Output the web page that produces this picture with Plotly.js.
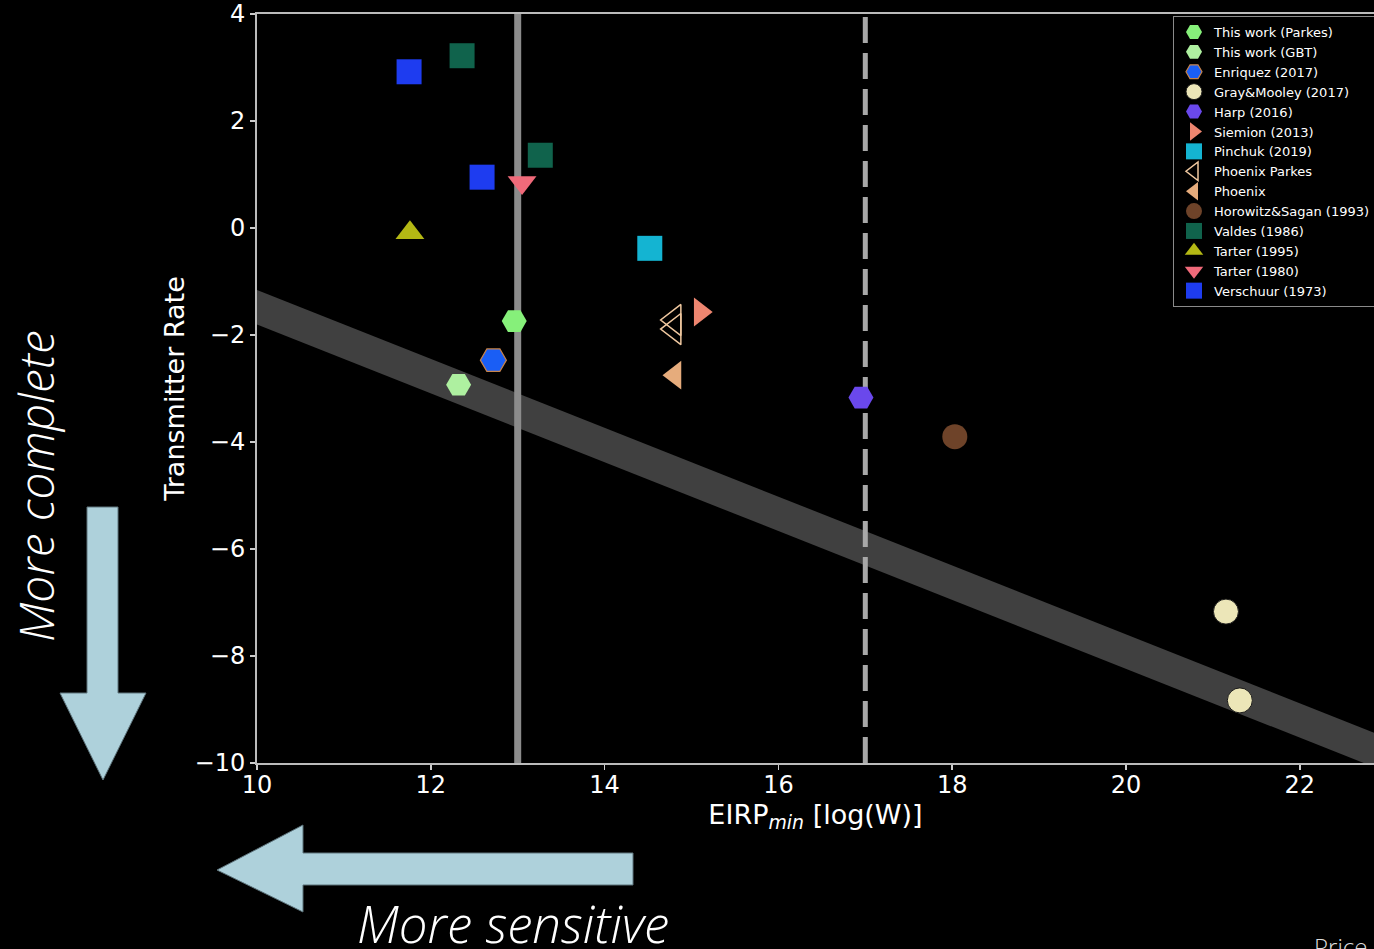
<!DOCTYPE html>
<html>
<head>
<meta charset="utf-8">
<script src="https://cdn.plot.ly/plotly-3.0.1.min.js"></script>
<style>
  html, body { margin: 0; padding: 0; background: #000; }
  #chart { width: 1374px; height: 949px; }
</style>
</head>
<body>
<div id="chart"></div>
<script>
// ---- Data ----
const parkesX = [12.96];           const parkesY = [-1.74];
const gbtX = [12.32];              const gbtY = [-2.93];
const enriquezX = [12.72];         const enriquezY = [-2.47];
const grayMooleyX = [21.15, 21.31]; const grayMooleyY = [-7.17, -8.83];
const harpX = [16.95];             const harpY = [-3.17];
const siemionX = [15.10];          const siemionY = [-1.57];
const pinchukX = [14.52];          const pinchukY = [-0.38];
const phoenixParkesX = [14.80, 14.80]; const phoenixParkesY = [-1.72, -1.89];
const phoenixX = [14.81];          const phoenixY = [-2.75];
const horowitzX = [18.03];         const horowitzY = [-3.90];
const valdesX = [12.36, 13.26];    const valdesY = [3.22, 1.36];
const tarter1995X = [11.76];       const tarter1995Y = [-0.09];
const tarter1980X = [13.05];       const tarter1980Y = [0.85];
const verschuurX = [11.75, 12.59]; const verschuurY = [2.92, 0.95];

const bandX = [9.5, 23.5];         const bandY = [-1.16, -10.17];
const solidLineX = [13, 13];       const dashLineX = [17, 17];
const vLineY = [-10, 4];

const xTicks = [10, 12, 14, 16, 18, 20, 22];
const yTicks = [-10, -8, -6, -4, -2, 0, 2, 4];

// ---- Traces ----
function pts(name, x, y, symbol, color, extra) {
  return Object.assign({
    type: 'scatter', mode: 'markers', name: name, x: x, y: y,
    marker: { symbol: symbol, size: 25, color: color, line: { width: 0 } }
  }, extra || {});
}

const traces = [
  { type: 'scatter', mode: 'lines', x: bandX, y: bandY, showlegend: false, hoverinfo: 'skip',
    line: { color: 'rgba(140,140,140,0.46)', width: 32 } },
  { type: 'scatter', mode: 'lines', x: solidLineX, y: vLineY, showlegend: false, hoverinfo: 'skip',
    line: { color: '#8c8c8c', width: 7 } },
  { type: 'scatter', mode: 'lines', x: dashLineX, y: vLineY, showlegend: false, hoverinfo: 'skip',
    line: { color: '#a8a8a8', width: 5, dash: '26px,10px' } },
  pts('This work (Parkes)', parkesX, parkesY, 'hexagon2', '#86f07a'),
  pts('This work (GBT)', gbtX, gbtY, 'hexagon2', '#aef0a0'),
  pts('Enriquez (2017)', enriquezX, enriquezY, 'hexagon2', '#1a5ef5',
      { marker: { symbol: 'hexagon2', size: 26, color: '#1a5ef5', line: { color: '#c8844a', width: 1.2 } } }),
  pts('Gray&Mooley (2017)', grayMooleyX, grayMooleyY, 'circle', '#ece6b8',
      { marker: { symbol: 'circle', size: 25, color: '#ece6b8', line: { color: '#1a1a1a', width: 1 } } }),
  pts('Harp (2016)', harpX, harpY, 'hexagon2', '#6a48ec'),
  pts('Siemion (2013)', siemionX, siemionY, 'triangle-right', '#ee8670'),
  pts('Pinchuk (2019)', pinchukX, pinchukY, 'square', '#14b4d2'),
  pts('Phoenix Parkes', phoenixParkesX, phoenixParkesY, 'triangle-left-open', '#f0c8a0',
      { marker: { symbol: 'triangle-left-open', size: 27, color: '#f0c8a0', line: { color: '#f0c8a0', width: 1.5 } } }),
  pts('Phoenix', phoenixX, phoenixY, 'triangle-left', '#e6ac7c', null),
  pts('Horowitz&Sagan (1993)', horowitzX, horowitzY, 'circle', '#6e4329'),
  pts('Valdes (1986)', valdesX, valdesY, 'square', '#10634c'),
  pts('Tarter (1995)', tarter1995X, tarter1995Y, 'triangle-up', '#b4b814'),
  pts('Tarter (1980)', tarter1980X, tarter1980Y, 'triangle-down', '#f06a7a'),
  pts('Verschuur (1973)', verschuurX, verschuurY, 'square', '#1e3cf0')
];

// ---- Layout helpers (pixel -> paper) ----
const L = 257, T = 14, W = 1117, H = 749;
const px = v => (v - L) / W;
const py = v => (T + H - v) / H;
function pathFrom(points) {
  return 'M' + points.map(p => px(p[0]).toFixed(5) + ',' + py(p[1]).toFixed(5)).join(' L') + ' Z';
}
const downArrow = [[87,507],[118,507],[118,693],[146,693],[103,780],[60,693],[87,693]];
const leftArrow = [[633,853],[633,885],[303,885],[303,912],[217,870],[303,825],[303,853]];

const axisFont = { family: 'DejaVu Sans, sans-serif', size: 24, color: '#ffffff' };
const titleFont = { family: 'DejaVu Sans, sans-serif', size: 27, color: '#ffffff' };

const layout = {
  width: 1374, height: 949,
  paper_bgcolor: '#000000', plot_bgcolor: '#000000',
  margin: { l: L, r: 0, t: T, b: 949 - T - H, autoexpand: false },
  showlegend: true,
  legend: {
    x: px(1173), y: py(16), xanchor: 'left', yanchor: 'top',
    bgcolor: '#000000', bordercolor: '#8a8a8a', borderwidth: 1,
    font: { family: 'DejaVu Sans, sans-serif', size: 13, color: '#ffffff' },
    tracegroupgap: 0
  },
  xaxis: {
    range: [10, 10 + W / 86.9], tickvals: xTicks, ticktext: xTicks.map(String),
    ticks: 'outside', ticklen: 5, tickwidth: 1.5, tickcolor: '#cccccc',
    ticklabelstandoff: -6,
    showline: true, linecolor: '#bbbbbb', linewidth: 2, mirror: true,
    showgrid: false, zeroline: false, tickfont: axisFont,
    title: { text: 'EIRP<sub><i>min</i></sub> [log(W)]', font: titleFont, standoff: 2 }
  },
  yaxis: {
    range: [-10, 4], tickvals: yTicks,
    ticks: 'outside', ticklen: 5, tickwidth: 1.5, tickcolor: '#cccccc',
    showline: true, linecolor: '#bbbbbb', linewidth: 2,
    showgrid: false, zeroline: false, tickfont: axisFont,
    title: { text: 'Transmitter Rate', font: titleFont, standoff: 2 }
  },
  shapes: [
    { type: 'path', xref: 'paper', yref: 'paper', path: pathFrom(downArrow),
      fillcolor: '#aed1db', line: { color: '#5e747c', width: 1 } },
    { type: 'path', xref: 'paper', yref: 'paper', path: pathFrom(leftArrow),
      fillcolor: '#aed1db', line: { color: '#5e747c', width: 1 } }
  ],
  annotations: [
    { xref: 'paper', yref: 'paper', x: px(35), y: py(486), text: 'More complete',
      textangle: -90, showarrow: false, xanchor: 'center', yanchor: 'middle',
      font: { family: 'Open Sans, sans-serif', size: 48, color: '#ffffff', style: 'italic', weight: 300 } },
    { xref: 'paper', yref: 'paper', x: px(513), y: py(923), text: 'More sensitive',
      showarrow: false, xanchor: 'center', yanchor: 'middle',
      font: { family: 'Open Sans, sans-serif', size: 51, color: '#ffffff', style: 'italic', weight: 300 } },
    { xref: 'paper', yref: 'paper', x: px(1312), y: py(928), text: 'Price et al. (2020)',
      showarrow: false, xanchor: 'left', yanchor: 'top',
      font: { family: 'Open Sans, sans-serif', size: 24, color: '#dddddd', weight: 300 } }
  ]
};

Plotly.newPlot('chart', traces, layout, { displayModeBar: false, staticPlot: true });
</script>
</body>
</html>
